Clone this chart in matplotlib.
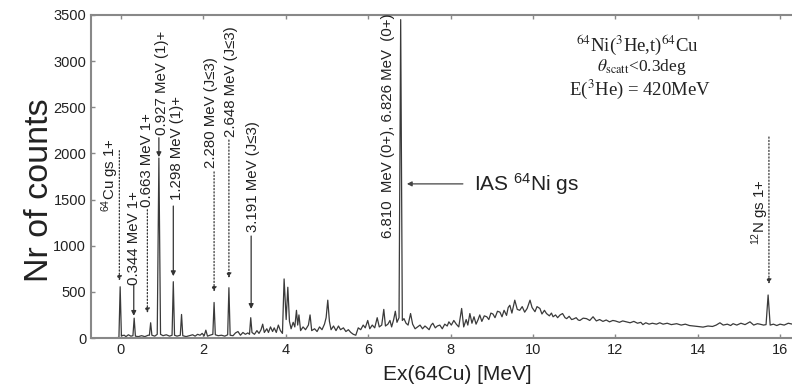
import matplotlib
matplotlib.use("Agg")
import matplotlib.pyplot as plt
import numpy as np

# spectrum: excitation energy [MeV] and counts
ex_low = [-0.72, -0.30, -0.05, -0.02, 0.01, 0.08, 0.12, 0.18, 0.24, 0.29, 0.32, 0.35,
          0.42, 0.50, 0.58, 0.66, 0.69, 0.72, 0.75, 0.82, 0.88, 0.92, 0.96, 1.02,
          1.10, 1.18, 1.24, 1.27, 1.30, 1.36, 1.44, 1.47, 1.50, 1.58, 1.66, 1.74,
          1.80, 1.86, 1.92, 1.97, 2.02, 2.06, 2.10, 2.16, 2.23, 2.26, 2.29, 2.36,
          2.44, 2.52, 2.59, 2.62, 2.65, 2.72, 2.78, 2.84, 2.90, 2.96, 3.02, 3.08,
          3.12, 3.15, 3.18, 3.24, 3.30, 3.35, 3.40, 3.44, 3.48, 3.54, 3.58, 3.63,
          3.68, 3.72, 3.77, 3.82, 3.87, 3.92]
cnt_low = [0, 2, 5, 555, 25, 30, 15, 35, 20, 25, 215, 20,
           15, 25, 15, 30, 30, 165, 30, 20, 40, 1950, 40, 25,
           35, 20, 30, 610, 30, 20, 30, 255, 25, 15, 25, 35,
           20, 40, 30, 50, 25, 85, 20, 30, 40, 385, 35, 25,
           30, 20, 35, 545, 30, 25, 55, 70, 30, 60, 40, 55,
           40, 220, 60, 40, 80, 50, 90, 150, 60, 100, 60, 120,
           70, 110, 60, 140, 80, 50]

ex_mid = [3.96, 4.01, 4.05, 4.09, 4.13, 4.18, 4.22, 4.26, 4.29, 4.32, 4.36, 4.42,
          4.48, 4.55, 4.59, 4.63, 4.70, 4.76, 4.82, 4.88, 4.94, 4.98, 5.02, 5.06,
          5.10, 5.16, 5.22, 5.28, 5.33, 5.40, 5.46, 5.52, 5.58, 5.64, 5.70, 5.76,
          5.82, 5.88, 5.93, 5.99, 6.04, 6.10, 6.16, 6.22, 6.27, 6.33, 6.38, 6.42,
          6.48, 6.53, 6.57, 6.62, 6.66, 6.70, 6.75, 6.79, 6.83, 6.87, 6.92, 6.97,
          7.03, 7.08, 7.14, 7.20]
cnt_mid = [640, 200, 550, 180, 100, 170, 120, 300, 140, 250, 80, 120,
           90, 140, 250, 80, 100, 70, 120, 90, 150, 220, 410, 180,
           90, 130, 80, 130, 90, 110, 70, 90, 60, 40, 30, 110,
           90, 140, 110, 190, 100, 140, 110, 220, 120, 140, 310, 130,
           150, 190, 120, 200, 290, 170, 220, 3450, 190, 210, 160, 140,
           265, 150, 100, 120]

ex_high = [7.26, 7.32, 7.38, 7.42, 7.48, 7.53, 7.57, 7.63, 7.68, 7.74, 7.80, 7.86,
           7.92, 7.96, 8.02, 8.08, 8.14, 8.20, 8.27, 8.32, 8.38, 8.42, 8.47, 8.52,
           8.57, 8.62, 8.67, 8.71, 8.76, 8.82, 8.88, 8.93, 8.98, 9.03, 9.08, 9.14,
           9.20, 9.25, 9.30, 9.36, 9.40, 9.44, 9.49, 9.56, 9.62, 9.68, 9.74, 9.80,
           9.86, 9.93, 9.98, 10.05, 10.10, 10.17, 10.22, 10.28, 10.33, 10.40, 10.45, 10.49,
           10.55, 10.60, 10.66, 10.72, 10.78, 10.82, 10.88, 10.94, 10.98, 11.05, 11.10, 11.14,
           11.22, 11.30, 11.38, 11.46, 11.54, 11.62, 11.70, 11.78, 11.86, 11.94, 12.00, 12.10,
           12.18, 12.27, 12.36, 12.45, 12.54, 12.62, 12.67, 12.74, 12.82, 12.90, 13.00, 13.08,
           13.16, 13.26, 13.36, 13.49, 13.60, 13.70, 13.80, 13.89, 14.00, 14.13, 14.25, 14.36,
           14.45, 14.54, 14.62, 14.72, 14.80, 14.86, 14.95, 15.05, 15.15, 15.27, 15.36, 15.45,
           15.51, 15.60, 15.66, 15.71, 15.76, 15.84, 15.92, 16.00, 16.10, 16.20, 16.30]
cnt_high = [140, 100, 130, 115, 90, 140, 160, 110, 130, 140, 100, 150,
            130, 175, 140, 190, 150, 120, 320, 120, 200, 140, 265, 160,
            230, 150, 200, 250, 180, 240, 230, 200, 270, 260, 220, 290,
            280, 230, 300, 245, 330, 355, 270, 410, 310, 300, 340, 280,
            320, 410, 330, 285, 340, 320, 260, 300, 265, 240, 270, 230,
            250, 220, 250, 265, 220, 210, 235, 200, 205, 220, 195, 190,
            215, 210, 190, 230, 185, 200, 180, 195, 175, 190, 185, 170,
            185, 175, 165, 180, 160, 170, 145, 165, 150, 160, 150, 165,
            150, 160, 145, 155, 140, 150, 135, 130, 125, 118, 130, 125,
            140, 165, 140, 150, 135, 155, 140, 160, 145, 175, 140, 155,
            150, 140, 145, 466, 140, 150, 135, 150, 140, 160, 150]

# labelled levels
level_labels = [r"$^{64}$Cu gs 1+", "0.344 MeV 1+", "0.663 MeV 1+", "0.927 MeV (1)+",
                "1.298 MeV (1)+", "2.280 MeV (J\u22643)", "2.648 MeV (J\u22643)",
                "3.191 MeV (J\u22643)", r"$^{12}$N gs 1+"]

x_ticks = [0, 2, 4, 6, 8, 10, 12, 14, 16]
y_ticks = [0, 500, 1000, 1500, 2000, 2500, 3000, 3500]

ex = np.array(ex_low + ex_mid + ex_high)
counts = np.array(cnt_low + cnt_mid + cnt_high)

plt.rcParams["font.family"] = ["Liberation Sans", "DejaVu Sans"]
plt.rcParams["mathtext.fontset"] = "custom"
plt.rcParams["mathtext.rm"] = "Liberation Sans"
plt.rcParams["mathtext.it"] = "Liberation Sans:italic"

fig = plt.figure(figsize=(7.92, 3.9), dpi=100)
ax = fig.add_axes([91 / 792, 52 / 390, 1 - 91 / 792, 323 / 390])

ax.plot(ex, counts, color="#3a3a3a", lw=0.9)

ax.set_xlim(-0.728, 16.29)
ax.set_ylim(0, 3500)
ax.set_xticks(x_ticks)
ax.set_yticks(y_ticks)
ax.tick_params(direction="in", top=True, labelsize=10.5, colors="#222222",
               length=3, width=1, color="#888888")
for s in ["left", "top", "bottom"]:
    ax.spines[s].set_color("#888888")
    ax.spines[s].set_linewidth(1.5)
ax.spines["right"].set_visible(False)

# annotations: text centre x, text bottom y, arrow x, arrow top y, arrow tip y, line style
ann = [
    (-0.27, 1365, -0.04, 2030, 620, ":"),
    (0.32, 574, 0.31, 574, 240, "-"),
    (0.63, 1420, 0.64, 1390, 270, ":"),
    (1.00, 2200, 0.92, 2170, 1960, "-"),
    (1.35, 1495, 1.27, 1430, 670, "-"),
    (2.19, 1842, 2.26, 1800, 500, ":"),
    (2.68, 2178, 2.62, 2145, 650, ":"),
    (3.20, 1149, 3.16, 1105, 315, "-"),
    (15.51, 1008, 15.73, 2178, 585, ":"),
]
for lab, (tx, ty, lx, ly0, ly1, ls) in zip(level_labels, ann):
    ax.text(tx, ty, lab, rotation=90, ha="center", va="bottom", fontsize=10.8,
            color="#222222")
    ax.annotate("", xy=(lx, ly1), xytext=(lx, ly0),
                arrowprops=dict(arrowstyle="-|>", color="#333333", lw=0.9,
                                linestyle=ls, mutation_scale=7,
                                shrinkA=0, shrinkB=0))

ax.text(6.48, 1084, "6.810  MeV (0+), 6.826 MeV  (0+)", rotation=90,
        ha="center", va="bottom", fontsize=10.8, color="#222222")
ax.annotate("", xy=(6.94, 1670), xytext=(8.3, 1670),
            arrowprops=dict(arrowstyle="-|>", color="#444444", lw=0.9,
                            mutation_scale=7, shrinkA=0, shrinkB=0))
ax.text(8.56, 1670, r"IAS $^{64}$Ni gs", ha="left", va="center", fontsize=15,
        color="#222222")

# reaction info, serif
serif = dict(ha="center", va="center", color="#222222",
             family="Liberation Serif", math_fontfamily="stix")
ax.text(12.53, 3180, r"$^{64}$Ni($^{3}$He,t)$^{64}$Cu", fontsize=13.5, **serif)
ax.text(12.64, 2935, r"$\theta_{\rm scatt}$<0.3deg", fontsize=12.5, **serif)
ax.text(12.60, 2690, r"E($^{3}$He) = 420MeV", fontsize=13.5, **serif)

fig.text(40 / 792, 1 - 190 / 390, "Nr of counts", rotation=90, ha="center",
         va="center", fontsize=24.5, color="#222222")
fig.text(457 / 792, 1 - 375 / 390, "Ex(64Cu) [MeV]", ha="center", va="center",
         fontsize=15, color="#222222")

fig.savefig("out.png", dpi=100)
